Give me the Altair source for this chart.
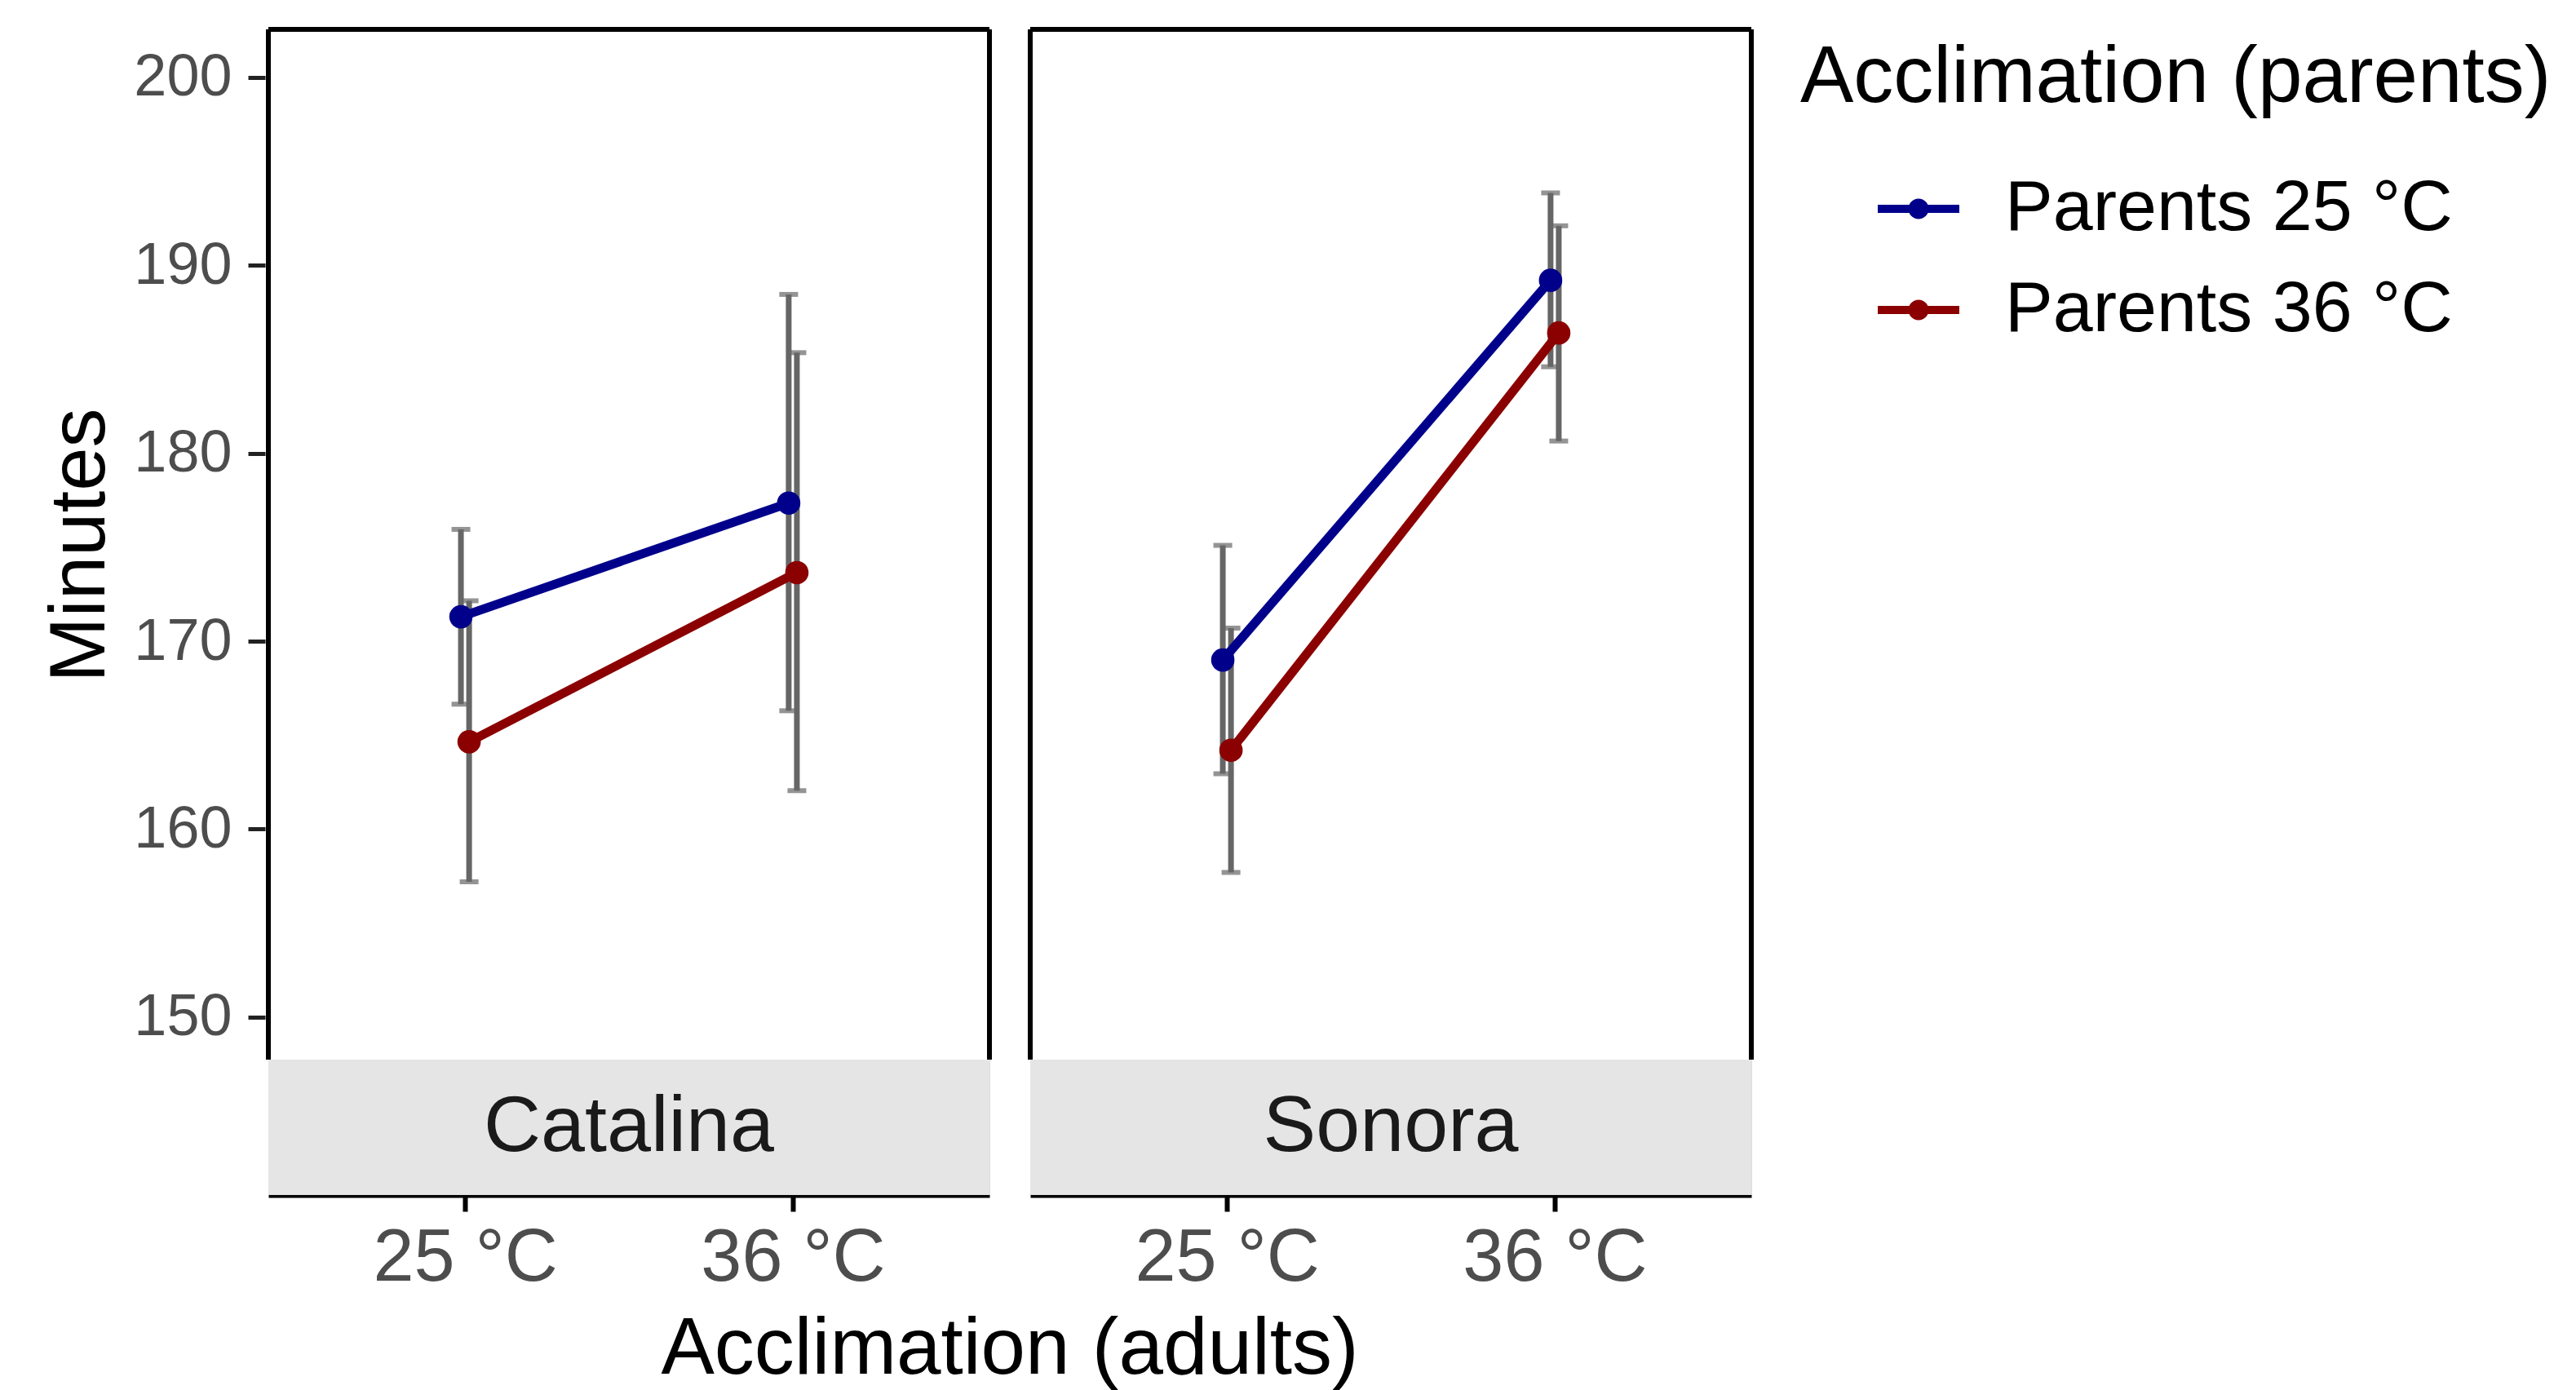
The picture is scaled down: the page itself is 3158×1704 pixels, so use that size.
import altair as alt
import pandas as pd

# ---- data ----
sites = ["Catalina", "Sonora"]
adults = ["25 °C", "36 °C"]
parents = ["Parents 25 °C", "Parents 36 °C"]

# mean, lower, upper  (order: site -> parent -> adult)
means = {
    ("Catalina", "Parents 25 °C"): [171.3, 177.35],
    ("Catalina", "Parents 36 °C"): [164.65, 173.65],
    ("Sonora", "Parents 25 °C"): [169.0, 189.2],
    ("Sonora", "Parents 36 °C"): [164.2, 186.4],
}
lowers = {
    ("Catalina", "Parents 25 °C"): [166.65, 166.3],
    ("Catalina", "Parents 36 °C"): [157.2, 162.05],
    ("Sonora", "Parents 25 °C"): [162.95, 184.6],
    ("Sonora", "Parents 36 °C"): [157.7, 180.65],
}
uppers = {
    ("Catalina", "Parents 25 °C"): [175.95, 188.45],
    ("Catalina", "Parents 36 °C"): [172.15, 185.35],
    ("Sonora", "Parents 25 °C"): [175.1, 193.85],
    ("Sonora", "Parents 36 °C"): [170.7, 192.1],
}
colors = ["#00008B", "#8B0000"]
y_ticks = [150, 160, 170, 180, 190, 200]

rows = []
for s in sites:
    for p in parents:
        for i, a in enumerate(adults):
            rows.append(dict(site=s, parent=p, adult=a,
                             mean=means[(s, p)][i], lo=lowers[(s, p)][i], hi=uppers[(s, p)][i]))
df = pd.DataFrame(rows)

# ---- layout constants (scale space) ----
XMIN, XMAX = 0.4, 2.6
YMIN, PBOT, YMAX = 140.58, 147.74, 202.55
DODGE = 0.0125
FONT = "Liberation Sans"

xscale = alt.Scale(domain=[XMIN, XMAX], nice=False, zero=False)
yscale = alt.Scale(domain=[YMIN, YMAX], nice=False, zero=False)

adults_js = str(adults).replace('"', "'")
label_expr = "%s[datum.value - 1]" % adults_js

xenc = alt.X("xpos:Q", scale=xscale,
             axis=alt.Axis(values=[1, 2], labelExpr=label_expr, title=None, grid=False,
                           domain=True, domainColor="black", domainWidth=6,
                           ticks=True, tickColor="black", tickWidth=6, tickSize=20,
                           labelFontSize=90, labelColor="#4D4D4D", labelPadding=13,
                           labelFont=FONT, labelFlush=False, labelLimit=1000,
                           labelOverlap=False))
yaxis = alt.Axis(values=y_ticks, title="Minutes", grid=False, domain=False,
                 ticks=True, tickColor="#222222", tickWidth=5, tickSize=21,
                 labelFontSize=72, labelColor="#4D4D4D", labelPadding=20, labelFont=FONT,
                 titleFontSize=96, titleFont=FONT, titleFontWeight="normal", titleColor="black",
                 titlePadding=16, titleY=632)

sym_path = ("M-1,-0.1L1,-0.1L1,0.1L-1,0.1Z "
            "M-0.25,0A0.25,0.25 0 1,1 0.25,0A0.25,0.25 0 1,1 -0.25,0Z")
legend = alt.Legend(title="Acclimation (parents)", orient="right",
                    offset=44, padding=12,
                    titleFontSize=98, titleFont=FONT, titleFontWeight="normal",
                    titleColor="black", titlePadding=60, titleLimit=2000,
                    labelFontSize=88, labelFont=FONT, labelColor="black", labelLimit=2000,
                    labelOffset=56, symbolType=sym_path, symbolSize=10000,
                    symbolStrokeWidth=0, symbolOffset=95, rowPadding=30)
color = alt.Color("parent:N", scale=alt.Scale(domain=parents, range=colors), legend=legend)

base = alt.Chart().transform_calculate(
    xpos="indexof(%s, datum.adult) + 1 + (datum.parent == '%s' ? -%f : %f)"
         % (adults_js, parents[0], DODGE, DODGE)
)

strip_base = alt.Chart().transform_aggregate(n="count()", groupby=["site"])

strip = strip_base.mark_rect(color="#E5E5E5").encode(
    x=alt.datum(XMIN, scale=xscale), x2=alt.datum(XMAX),
    y=alt.datum(YMIN, scale=yscale), y2=alt.datum(PBOT),
)
strip_text = strip_base.mark_text(fontSize=97, font=FONT, color="#1A1A1A", baseline="middle").encode(
    x=alt.datum((XMIN + XMAX) / 2), y=alt.datum((YMIN + PBOT) / 2), text="site:N"
)
frame_left = strip_base.mark_rule(color="black", strokeWidth=6).encode(
    x=alt.datum(XMIN), y=alt.datum(PBOT), y2=alt.datum(YMAX))
frame_right = strip_base.mark_rule(color="black", strokeWidth=6).encode(
    x=alt.datum(XMAX), y=alt.datum(PBOT), y2=alt.datum(YMAX))
frame_top = strip_base.mark_rule(color="black", strokeWidth=6).encode(
    x=alt.datum(XMIN), x2=alt.datum(XMAX), y=alt.datum(YMAX))

err = base.mark_rule(color="#666666", strokeWidth=7).encode(
    x=xenc, y=alt.Y("lo:Q", scale=yscale, axis=yaxis), y2="hi:Q")
cap_lo = base.mark_tick(color="#666666", orient="horizontal", size=23, thickness=6).encode(
    x="xpos:Q", y="lo:Q")
cap_hi = base.mark_tick(color="#666666", orient="horizontal", size=23, thickness=6).encode(
    x="xpos:Q", y="hi:Q")
points = base.mark_point(filled=True, size=820, opacity=1).encode(
    x="xpos:Q", y="mean:Q", color=color)
lines = base.mark_line(strokeWidth=11).encode(
    x="xpos:Q", y="mean:Q", color=color)

panel = alt.layer(err, strip, strip_text, frame_left, frame_right, frame_top,
                  cap_lo, cap_hi, points, lines, data=df).properties(width=884, height=1428)

chart = panel.facet(
    column=alt.Column("site:N", sort=sites,
                      header=alt.Header(labels=False, title="Acclimation (adults)",
                                        titleOrient="bottom", titleFontSize=98, titleFont=FONT,
                                        titleFontWeight="normal", titleColor="black",
                                        titlePadding=10)),
    spacing=42,
).properties(
    padding={"left": 50, "top": 32, "right": 5, "bottom": 5}
).configure_view(stroke=None).configure(background="white")

chart.save("out.html", embed_options={"renderer": "svg", "actions": False})
